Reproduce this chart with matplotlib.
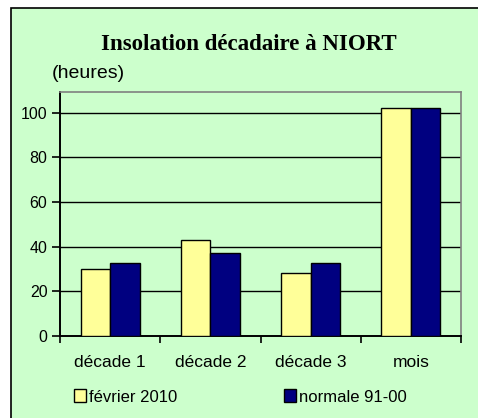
import matplotlib
matplotlib.use('Agg')
import matplotlib.pyplot as plt
from matplotlib.patches import Rectangle
import numpy as np

# --- Données (heures d'insolation) ---
categories = ['décade 1', 'décade 2', 'décade 3', 'mois']
fevrier_2010 = [30, 43, 28, 102]
normale_91_00 = [32.5, 37, 32.5, 102]
series_labels = ['février 2010', 'normale 91-00']
yticks = [0, 20, 40, 60, 80, 100]

W, H = 478, 418
VERT = '#CCFFCC'
JAUNE = '#FFFF99'
MARINE = '#000080'

plt.rcParams['font.family'] = ['Liberation Sans', 'DejaVu Sans']

fig = plt.figure(figsize=(W / 100, H / 100), dpi=100, facecolor='white')

# cadre vert (coupé à droite et en bas)
fig.patches.append(Rectangle((11 / W, -0.05), 1.0, (H - 8) / H + 0.05,
                             transform=fig.transFigure, facecolor=VERT,
                             edgecolor='black', linewidth=1.2, zorder=-5))


def fx(px):
    return px / W


def fy(py):
    return (H - py) / H


x0, x1, ytop, ybot = 60, 461, 92, 336
ax = fig.add_axes([fx(x0), fy(ybot), fx(x1) - fx(x0), fy(ytop) - fy(ybot)])
ax.set_facecolor(VERT)

x = np.arange(len(categories))
w = 0.295
ax.bar(x - w / 2, fevrier_2010, w, color=JAUNE, edgecolor='black', linewidth=1.0,
       label=series_labels[0], zorder=3)
ax.bar(x + w / 2, normale_91_00, w, color=MARINE, edgecolor='black', linewidth=1.0,
       label=series_labels[1], zorder=3)

ax.set_xlim(-0.5, len(categories) - 0.5)
ax.set_ylim(0, 109.3)
ax.set_yticks(yticks)
ax.set_yticklabels([str(v) for v in yticks], fontsize=11.5)
for v in yticks[1:]:
    ax.axhline(v, color='black', linewidth=1.0, zorder=1)

ax.set_xticks(x)
ax.set_xticklabels(categories, fontsize=12.5)
ax.set_xticks(np.arange(-0.5, len(categories), 1.0), minor=True)
ax.tick_params(axis='x', which='major', length=0, pad=14)
ax.tick_params(axis='x', which='minor', length=5, width=1.2, color='black')
ax.tick_params(axis='y', length=6, width=1.2, color='black', pad=3)

for s in ['top', 'right']:
    ax.spines[s].set_color('#808080')
    ax.spines[s].set_linewidth(1.2)
for s in ['left', 'bottom']:
    ax.spines[s].set_color('black')
    ax.spines[s].set_linewidth(1.4)

fig.text(fx(249), fy(45), 'Insolation décadaire à NIORT', ha='center', va='center',
         fontsize=16.5, fontweight='bold', family='Liberation Serif')
fig.text(fx(52), fy(73), '(heures)', ha='left', va='center', fontsize=14)

leg = fig.legend(loc='center left', bbox_to_anchor=(fx(67), fy(397)), ncol=2,
                 frameon=False, fontsize=12, handlelength=0.75, handleheight=0.8,
                 handletextpad=0.15, columnspacing=6.4, borderaxespad=0)

fig.savefig('out.png', dpi=100, facecolor='white')
